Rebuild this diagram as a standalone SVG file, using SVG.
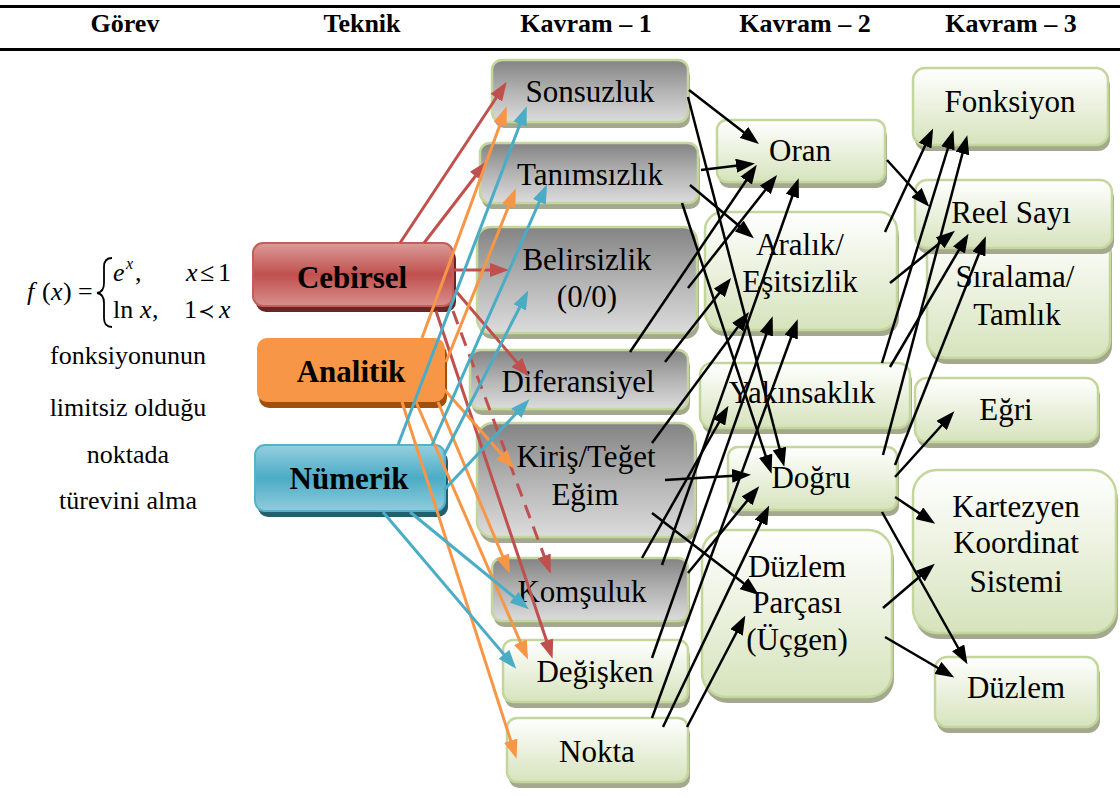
<svg xmlns="http://www.w3.org/2000/svg" width="1120" height="798" viewBox="0 0 1120 798" font-family="'Liberation Serif', 'DejaVu Serif', serif">
<defs>
<linearGradient id="gGray" x1="0" y1="0" x2="0" y2="1"><stop offset="0" stop-color="#838383"/><stop offset="0.5" stop-color="#b3b3b3"/><stop offset="1" stop-color="#dcdcdc"/></linearGradient>
<linearGradient id="gGreen" x1="0" y1="0" x2="0" y2="1"><stop offset="0" stop-color="#ffffff"/><stop offset="1" stop-color="#d6e3bc"/></linearGradient>
<linearGradient id="gRed" x1="0" y1="0" x2="0" y2="1"><stop offset="0" stop-color="#dc9c9a"/><stop offset="0.5" stop-color="#c0504d"/><stop offset="1" stop-color="#d8908e"/></linearGradient>
<linearGradient id="gBlue" x1="0" y1="0" x2="0" y2="1"><stop offset="0" stop-color="#95cfdf"/><stop offset="0.5" stop-color="#4bacc6"/><stop offset="1" stop-color="#91ccdc"/></linearGradient>
<marker id="ak" markerUnits="userSpaceOnUse" markerWidth="19" markerHeight="14" refX="14" refY="7" orient="auto"><path d="M0,0 L19,7 L0,14 z" fill="#000"/></marker>
<marker id="ar" markerUnits="userSpaceOnUse" markerWidth="19" markerHeight="14" refX="14" refY="7" orient="auto"><path d="M0,0 L19,7 L0,14 z" fill="#c0504d"/></marker>
<marker id="ao" markerUnits="userSpaceOnUse" markerWidth="19" markerHeight="14" refX="14" refY="7" orient="auto"><path d="M0,0 L19,7 L0,14 z" fill="#f79646"/></marker>
<marker id="ab" markerUnits="userSpaceOnUse" markerWidth="19" markerHeight="14" refX="14" refY="7" orient="auto"><path d="M0,0 L19,7 L0,14 z" fill="#4bacc6"/></marker>
</defs>
<style>
text{font-family:'Liberation Serif','DejaVu Serif',serif;fill:#000}
.t{font-size:31px;text-anchor:middle}
.tb{font-size:31px;font-weight:bold;text-anchor:middle}
.h{font-size:26px;font-weight:bold;text-anchor:middle}
.l{font-size:26px;text-anchor:middle}
.f{font-size:26px}
.i{font-style:italic}
.sh{fill:#a3a88e}
.gray{fill:url(#gGray);stroke:#c3d69b;stroke-width:2.5}
.grn{fill:url(#gGreen);stroke:#c3d69b;stroke-width:2.5}
.ck{stroke:#000;stroke-width:2.5;fill:none;marker-end:url(#ak)}
.cr{stroke:#c0504d;stroke-width:3;fill:none;marker-end:url(#ar)}
.co{stroke:#f79646;stroke-width:3;fill:none;marker-end:url(#ao)}
.cb{stroke:#4bacc6;stroke-width:3;fill:none;marker-end:url(#ab)}
</style>
<rect width="1120" height="798" fill="#fff"/>
<g id="header">
<rect x="0" y="5" width="1120" height="3" fill="#000"/>
<rect x="0" y="48" width="1120" height="3" fill="#000"/>
<text class="h" x="125" y="32">Görev</text>
<text class="h" x="362" y="32">Teknik</text>
<text class="h" x="586" y="32">Kavram – 1</text>
<text class="h" x="805" y="32">Kavram – 2</text>
<text class="h" x="1011" y="32">Kavram – 3</text>
</g>
<g id="task">
<text class="f i" x="27" y="300">f</text>
<text class="f" x="42" y="300">(</text>
<text class="f i" x="51" y="300">x</text>
<text class="f" x="63" y="300">)</text>
<text class="f" x="78" y="300">=</text>
<path d="M112,258 Q104,258 104,267 L104,283 Q104,292 97,293 Q104,294 104,303 L104,318 Q104,327 112,327" fill="none" stroke="#000" stroke-width="1.8"/>
<text class="f i" x="113" y="281">e</text>
<text class="i" x="126" y="269" font-size="16">x</text>
<text class="f" x="135" y="281">,</text>
<text class="f i" x="186" y="281">x</text>
<text class="f" x="200" y="281">≤</text>
<text class="f" x="218" y="281">1</text>
<text class="f" x="113" y="318">ln</text>
<text class="f i" x="140" y="318">x</text>
<text class="f" x="152" y="318">,</text>
<text class="f" x="184" y="318">1</text>
<text x="198" y="318" font-size="20">≺</text>
<text class="f i" x="219" y="318">x</text>
<text class="l" x="128" y="364">fonksiyonunun</text>
<text class="l" x="128" y="416">limitsiz olduğu</text>
<text class="l" x="128" y="463">noktada</text>
<text class="l" x="128" y="509">türevini alma</text>
</g>
<g id="n-cebirsel"><rect x="256" y="249" width="200" height="63" rx="10" fill="#6b2624"/><rect x="253" y="243" width="200" height="63" rx="10" fill="url(#gRed)" stroke="#c65d5a" stroke-width="2"/><text class="tb" x="352" y="288">Cebirsel</text></g>
<g id="n-analitik"><rect x="259" y="344" width="188" height="64" rx="10" fill="#a04f0d"/><rect x="257" y="338" width="188" height="64" rx="10" fill="#f79646"/><text class="tb" x="351" y="382">Analitik</text></g>
<g id="n-numerik"><rect x="258" y="451" width="190" height="66" rx="10" fill="#245f70"/><rect x="255" y="445" width="190" height="66" rx="10" fill="url(#gBlue)" stroke="#56b2ca" stroke-width="2"/><text class="tb" x="349" y="489">Nümerik</text></g>
<g id="n-sonsuzluk"><rect class="sh" x="494" y="66" width="196" height="62" rx="10"/><rect class="gray" x="492" y="60" width="196" height="62" rx="10"/><text class="t" x="590" y="102">Sonsuzluk</text></g>
<g id="n-tanimsizlik"><rect class="sh" x="482" y="149" width="218" height="60" rx="10"/><rect class="gray" x="480" y="143" width="218" height="60" rx="10"/><text class="t" x="590" y="185">Tanımsızlık</text></g>
<g id="n-belirsizlik"><rect class="sh" x="479" y="233" width="220" height="106" rx="14"/><rect class="gray" x="477" y="227" width="220" height="106" rx="14"/><text class="t" x="587" y="270">Belirsizlik</text><text class="t" x="587" y="307">(0/0)</text></g>
<g id="n-diferansiyel"><rect class="sh" x="472" y="356" width="218" height="59" rx="10"/><rect class="gray" x="470" y="350" width="218" height="59" rx="10"/><text class="t" x="578" y="392">Diferansiyel</text></g>
<g id="n-kiris"><rect class="sh" x="479" y="429" width="218" height="114" rx="16"/><rect class="gray" x="477" y="423" width="218" height="114" rx="16"/><text class="t" x="586" y="467">Kiriş/Teğet</text><text class="t" x="585" y="505">Eğim</text></g>
<g id="n-komsuluk"><rect class="sh" x="494" y="564" width="196" height="63" rx="10"/><rect class="gray" x="492" y="558" width="196" height="63" rx="10"/><text class="t" x="582" y="602">Komşuluk</text></g>
<g id="n-degisken"><rect class="sh" x="505" y="646" width="185" height="62" rx="10"/><rect class="grn" x="503" y="640" width="185" height="62" rx="10"/><text class="t" x="595" y="682">Değişken</text></g>
<g id="n-nokta"><rect class="sh" x="509" y="724" width="181" height="64" rx="10"/><rect class="grn" x="507" y="718" width="181" height="64" rx="10"/><text class="t" x="597" y="762">Nokta</text></g>
<g id="n-oran"><rect class="sh" x="719" y="126" width="168" height="62" rx="10"/><rect class="grn" x="717" y="120" width="168" height="62" rx="10"/><text class="t" x="800" y="161">Oran</text></g>
<g id="n-aralik"><rect class="sh" x="707" y="218" width="192" height="118" rx="18"/><rect class="grn" x="705" y="212" width="192" height="118" rx="18"/><text class="t" x="800" y="255">Aralık/</text><text class="t" x="800" y="292">Eşitsizlik</text></g>
<g id="n-yakinsaklik"><rect class="sh" x="702" y="369" width="210" height="65" rx="12"/><rect class="grn" x="700" y="363" width="210" height="65" rx="12"/><text class="t" x="802" y="403">Yakınsaklık</text></g>
<g id="n-dogru"><rect class="sh" x="730" y="453" width="169" height="63" rx="10"/><rect class="grn" x="728" y="447" width="169" height="63" rx="10"/><text class="t" x="811" y="488">Doğru</text></g>
<g id="n-duzlemparcasi"><rect class="sh" x="704" y="536" width="190" height="167" rx="24"/><rect class="grn" x="702" y="530" width="190" height="167" rx="24"/><text class="t" x="797" y="577">Düzlem</text><text class="t" x="797" y="613">Parçası</text><text class="t" x="797" y="650">(Üçgen)</text></g>
<g id="n-fonksiyon"><rect class="sh" x="915" y="74" width="195" height="77" rx="12"/><rect class="grn" x="913" y="68" width="195" height="77" rx="12"/><text class="t" x="1010" y="112">Fonksiyon</text></g>
<g id="n-siralama"><rect class="sh" x="929" y="236" width="183" height="128" rx="18"/><rect class="grn" x="927" y="230" width="183" height="128" rx="18"/><text class="t" x="1015" y="287">Sıralama/</text><text class="t" x="1017" y="325">Tamlık</text></g>
<g id="n-reelsayi"><rect class="sh" x="917" y="186" width="197" height="68" rx="12"/><rect class="grn" x="915" y="180" width="197" height="68" rx="12"/><text class="t" x="1011" y="223">Reel Sayı</text></g>
<g id="n-egri"><rect class="sh" x="917" y="384" width="183" height="64" rx="12"/><rect class="grn" x="915" y="378" width="183" height="64" rx="12"/><text class="t" x="1006" y="420">Eğri</text></g>
<g id="n-kartezyen"><rect class="sh" x="915" y="476" width="203" height="163" rx="24"/><rect class="grn" x="913" y="470" width="203" height="163" rx="24"/><text class="t" x="1016" y="517">Kartezyen</text><text class="t" x="1016" y="553">Koordinat</text><text class="t" x="1016" y="592">Sistemi</text></g>
<g id="n-duzlem"><rect class="sh" x="937" y="663" width="163" height="70" rx="12"/><rect class="grn" x="935" y="657" width="163" height="70" rx="12"/><text class="t" x="1016" y="698">Düzlem</text></g>
<g id="connectors">
<line class="cr" x1="400" y1="243" x2="504" y2="86"/>
<line class="cr" x1="424" y1="243" x2="484" y2="165"/>
<line class="cr" x1="453" y1="270" x2="504" y2="270"/>
<line class="cr" x1="455" y1="290" x2="526" y2="373"/>
<line class="cr" x1="453" y1="311" x2="549" y2="569" stroke-dasharray="14,9"/>
<line class="cr" x1="436" y1="311" x2="551" y2="654"/>
<line class="co" x1="422" y1="338" x2="505" y2="111"/>
<line class="co" x1="446" y1="362" x2="514" y2="193"/>
<line class="co" x1="443" y1="388" x2="511" y2="465"/>
<line class="co" x1="438" y1="402" x2="508" y2="569"/>
<line class="co" x1="416" y1="402" x2="526" y2="655"/>
<line class="co" x1="402" y1="402" x2="515" y2="754"/>
<line class="cb" x1="398" y1="445" x2="525" y2="111"/>
<line class="cb" x1="432" y1="445" x2="545" y2="189"/>
<line class="cb" x1="444" y1="455" x2="526" y2="295"/>
<line class="cb" x1="444" y1="490" x2="526" y2="403"/>
<line class="cb" x1="410" y1="512" x2="525" y2="606"/>
<line class="cb" x1="383" y1="512" x2="513" y2="665"/>
<line class="ck" x1="689" y1="90" x2="755" y2="141"/>
<line class="ck" x1="701" y1="170" x2="750" y2="164"/>
<line class="ck" x1="630" y1="352" x2="754" y2="169"/>
<line class="ck" x1="688" y1="288" x2="774" y2="179"/>
<line class="ck" x1="662" y1="565" x2="797" y2="183"/>
<line class="ck" x1="690" y1="185" x2="750" y2="235"/>
<line class="ck" x1="665" y1="362" x2="728" y2="282"/>
<line class="ck" x1="652" y1="443" x2="746" y2="316"/>
<line class="ck" x1="652" y1="658" x2="771" y2="321"/>
<line class="ck" x1="652" y1="718" x2="796" y2="324"/>
<line class="ck" x1="642" y1="558" x2="726" y2="410"/>
<line class="ck" x1="688" y1="97" x2="783" y2="462"/>
<line class="ck" x1="682" y1="203" x2="770" y2="469"/>
<line class="ck" x1="665" y1="480" x2="746" y2="475"/>
<line class="ck" x1="688" y1="573" x2="756" y2="490"/>
<line class="ck" x1="663" y1="727" x2="767" y2="510"/>
<line class="ck" x1="652" y1="513" x2="755" y2="592"/>
<line class="ck" x1="687" y1="727" x2="743" y2="620"/>
<line class="ck" x1="887" y1="160" x2="926" y2="203"/>
<line class="ck" x1="885" y1="232" x2="931" y2="133"/>
<line class="ck" x1="890" y1="283" x2="951" y2="234"/>
<line class="ck" x1="882" y1="363" x2="952" y2="135"/>
<line class="ck" x1="890" y1="367" x2="966" y2="238"/>
<line class="ck" x1="883" y1="455" x2="966" y2="140"/>
<line class="ck" x1="895" y1="465" x2="984" y2="241"/>
<line class="ck" x1="895" y1="477" x2="951" y2="415"/>
<line class="ck" x1="895" y1="497" x2="931" y2="521"/>
<line class="ck" x1="882" y1="512" x2="965" y2="660"/>
<line class="ck" x1="883" y1="608" x2="931" y2="567"/>
<line class="ck" x1="885" y1="637" x2="950" y2="675"/>
</g>
</svg>
